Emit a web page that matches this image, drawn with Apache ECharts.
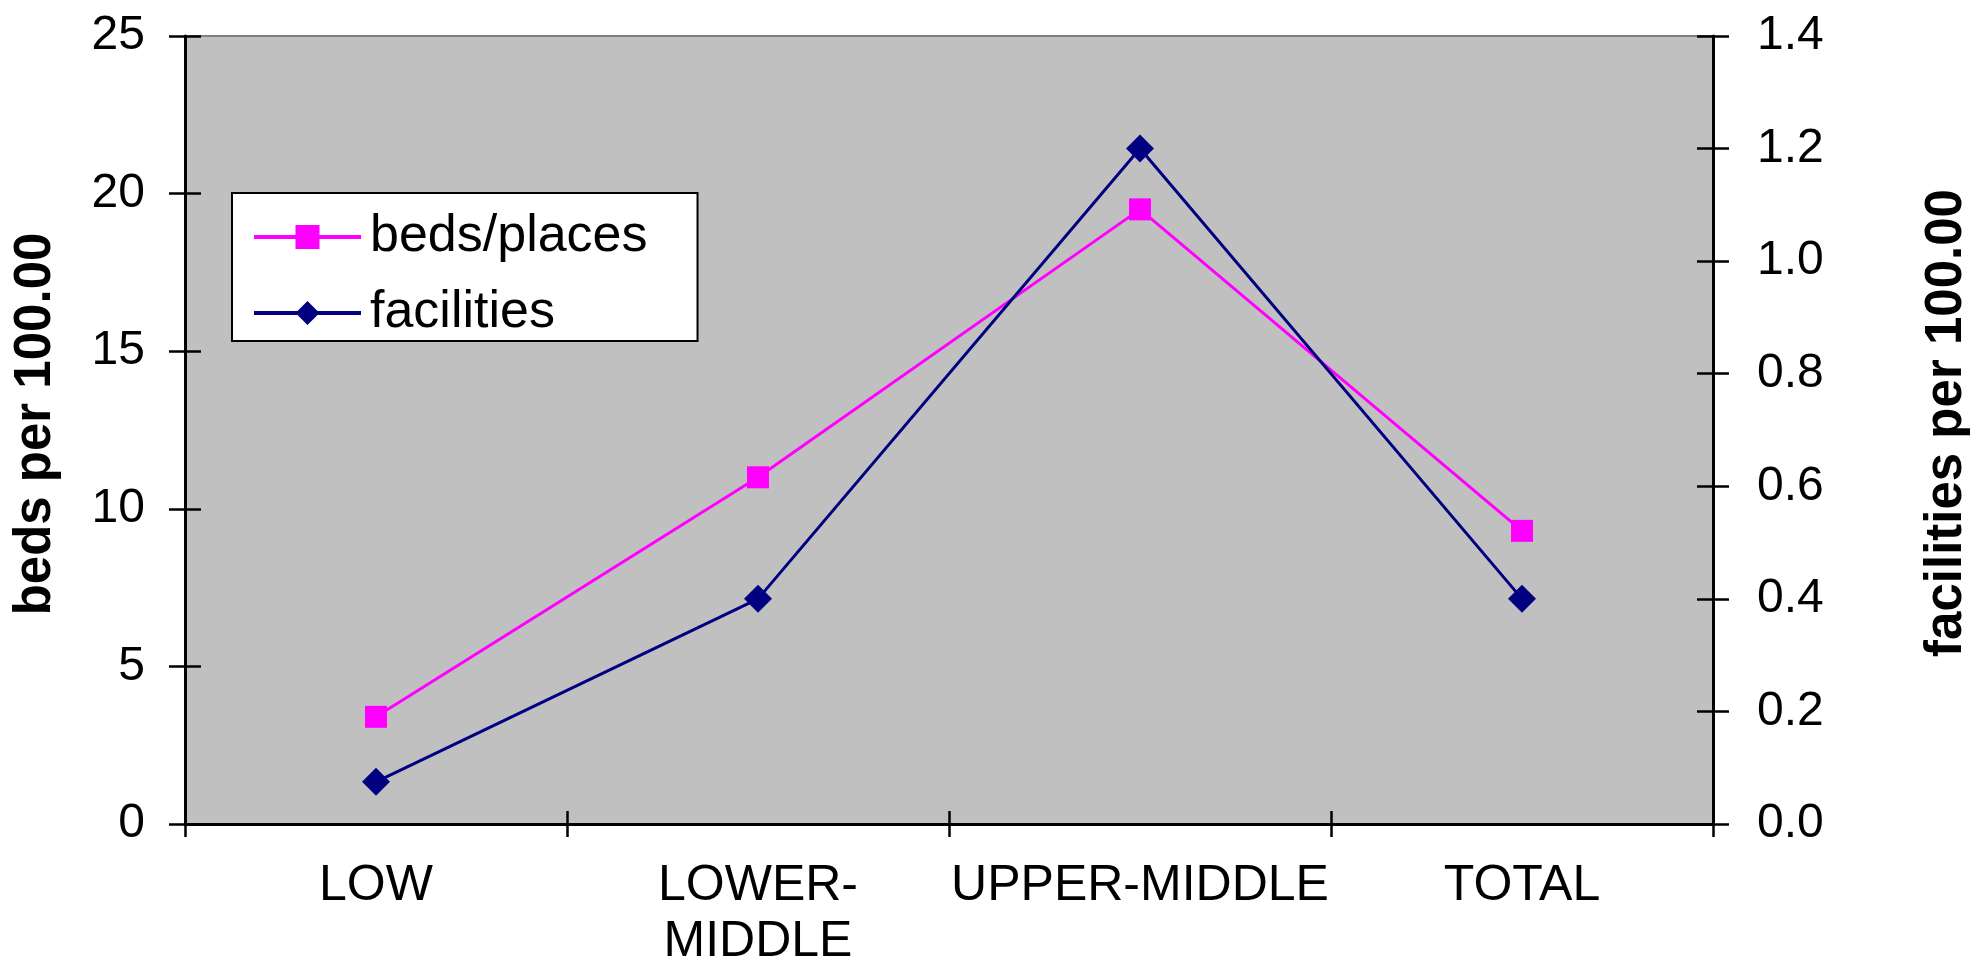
<!DOCTYPE html>
<html>
<head>
<meta charset="utf-8">
<script src="https://cdn.jsdelivr.net/npm/echarts@6/dist/echarts.min.js"></script>
<style>
  html, body { margin: 0; padding: 0; background: #ffffff; }
  #chart { width: 1970px; height: 965px; }
</style>
</head>
<body>
<div id="chart"></div>
<script>
const categories = ['LOW', 'LOWER-\nMIDDLE', 'UPPER-MIDDLE', 'TOTAL'];
const bedsPlaces = [3.4, 11.0, 19.5, 9.3];
const facilities = [0.075, 0.4, 1.2, 0.4];
const leftAxisName = 'beds per 100.00';
const rightAxisName = 'facilities per 100.00';
const seriesNames = ['beds/places', 'facilities'];

const FONT = 'Liberation Sans, Arial, sans-serif';
const chart = echarts.init(document.getElementById('chart'), null, { renderer: 'canvas' });

const yCommon = { type: 'value', splitLine: { show: false } };

chart.setOption({
  animation: false,
  backgroundColor: '#ffffff',
  grid: {
    left: 185, right: 257, top: 36, bottom: 141,
    containLabel: false, outerBoundsMode: 'none',
    show: true, backgroundColor: '#c0c0c0', borderColor: '#808080', borderWidth: 2
  },
  legend: {
    orient: 'vertical',
    left: 232, top: 193,
    padding: [18, 50, 2, 20],
    itemGap: 24,
    itemWidth: 107,
    itemHeight: 30,
    backgroundColor: '#ffffff',
    borderColor: '#000000',
    borderWidth: 2,
    borderRadius: 0,
    lineStyle: { width: 4, inactiveWidth: 4 },
    itemStyle: { borderWidth: 0 },
    textStyle: { fontFamily: FONT, fontSize: 52, lineHeight: 52, color: '#000000', padding: [0, 0, 0, 4] },
    data: seriesNames
  },
  xAxis: [
    {
      type: 'category', data: categories, boundaryGap: true, position: 'bottom',
      axisLine: { lineStyle: { color: '#000000', width: 3 } },
      axisTick: { show: true, inside: false, length: 13, lineStyle: { color: '#000000', width: 2.5 } },
      axisLabel: { fontFamily: FONT, fontSize: 50, lineHeight: 56, color: '#000000', margin: 34, interval: 0 }
    },
    {
      type: 'category', data: categories, boundaryGap: true, position: 'bottom',
      axisLine: { show: false },
      axisTick: { show: true, inside: true, length: 13, lineStyle: { color: '#000000', width: 2.5 } },
      axisLabel: { show: false }
    }
  ],
  yAxis: [
    Object.assign({}, yCommon, {
      position: 'left', min: 0, max: 25, interval: 5,
      name: leftAxisName, nameLocation: 'middle', nameGap: 124,
      nameTextStyle: { fontFamily: FONT, fontSize: 51, fontWeight: 'bold', color: '#000000', padding: [0, 0, 0, 12] },
      axisLine: { show: true, lineStyle: { color: '#000000', width: 3 } },
      axisTick: { show: true, inside: false, length: 16, lineStyle: { color: '#000000', width: 2.5 } },
      axisLabel: { fontFamily: FONT, fontSize: 48, color: '#000000', margin: 40 }
    }),
    Object.assign({}, yCommon, {
      position: 'left', min: 0, max: 25, interval: 5,
      axisLine: { show: false },
      axisTick: { show: true, inside: true, length: 16, lineStyle: { color: '#000000', width: 2.5 } },
      axisLabel: { show: false }
    }),
    Object.assign({}, yCommon, {
      position: 'right', min: 0, max: 1.4, interval: 0.2,
      name: rightAxisName, nameLocation: 'middle', nameGap: 208,
      nameTextStyle: { fontFamily: FONT, fontSize: 51, fontWeight: 'bold', color: '#000000', padding: [0, 0, 0, 14] },
      axisLine: { show: true, lineStyle: { color: '#000000', width: 3 } },
      axisTick: { show: true, inside: false, length: 16, lineStyle: { color: '#000000', width: 2.5 } },
      axisLabel: { fontFamily: FONT, fontSize: 48, color: '#000000', margin: 44,
        formatter: function (v) { return v.toFixed(1); } }
    }),
    Object.assign({}, yCommon, {
      position: 'right', min: 0, max: 1.4, interval: 0.2,
      axisLine: { show: false },
      axisTick: { show: true, inside: true, length: 16, lineStyle: { color: '#000000', width: 2.5 } },
      axisLabel: { show: false }
    })
  ],
  series: [
    {
      name: seriesNames[0], type: 'line', xAxisIndex: 0, yAxisIndex: 0,
      data: bedsPlaces,
      symbol: 'rect', symbolSize: 22,
      lineStyle: { color: '#ff00ff', width: 3 },
      itemStyle: { color: '#ff00ff', borderWidth: 0 },
      z: 3
    },
    {
      name: seriesNames[1], type: 'line', xAxisIndex: 0, yAxisIndex: 2,
      data: facilities,
      symbol: 'diamond', symbolSize: 28,
      lineStyle: { color: '#000080', width: 3 },
      itemStyle: { color: '#000080', borderWidth: 0 },
      z: 4
    }
  ]
});
</script>
</body>
</html>
